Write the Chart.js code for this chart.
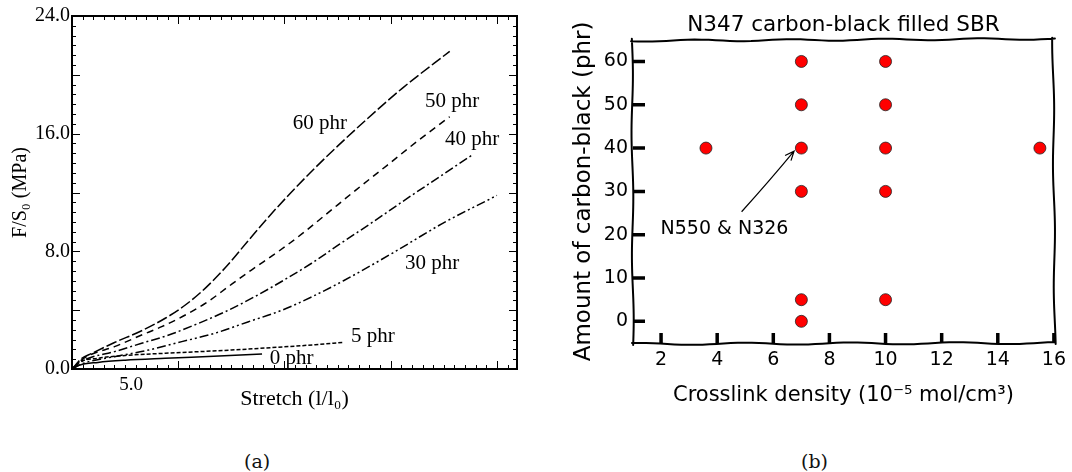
<!DOCTYPE html>
<html>
<head>
<meta charset="utf-8">
<script src="https://cdn.jsdelivr.net/npm/chart.js@4"></script>
<style>
  html, body { margin: 0; padding: 0; background: #fff; }
  body { width: 1072px; height: 472px; position: relative; overflow: hidden; }
  #chartA { position: absolute; left: 0; top: 0; }
  #chartB { position: absolute; left: 560px; top: 0; }
  .cap { position: absolute; top: 450px; font: 19px "DejaVu Serif", serif; color: #111; line-height: 22px; }
</style>
</head>
<body>
<canvas id="chartA" width="540" height="420"></canvas>
<canvas id="chartB" width="512" height="420"></canvas>
<div class="cap" style="left:244px">(a)</div>
<div class="cap" style="left:801px">(b)</div>
<script>
// ---- panel (a): stress vs stretch for each filler loading ----
const stretch60 = [0, 0.8, 1.7, 3.6, 5.9, 7.9, 9.6, 11.3, 13.0, 14.8, 16.5, 18.5, 20.5, 22.5, 25.0, 28.0, 32.0];
const stress60  = [0, 0.7, 1.07, 1.8, 2.6, 3.45, 4.35, 5.5, 6.9, 8.6, 10.2, 11.95, 13.6, 15.15, 17.0, 19.1, 21.6];
const stretch50 = [0, 0.8, 1.5, 3.6, 5.9, 7.6, 9.6, 11.55, 13.25, 15.2, 17.5, 19.5, 21.5, 24.1, 26.7, 29.2, 32.0];
const stress50  = [0, 0.6, 0.95, 1.52, 2.31, 2.88, 3.67, 4.6, 5.6, 6.73, 8.0, 9.2, 10.5, 12.2, 13.85, 15.45, 17.15];
const stretch40 = [0, 0.7, 1.4, 3.6, 5.9, 8.2, 10.7, 13.0, 15.2, 17.5, 20.3, 22.7, 25.5, 28.4, 31.2, 34.0];
const stress40  = [0, 0.45, 0.73, 1.18, 1.75, 2.31, 3.1, 3.9, 4.8, 5.83, 7.19, 8.5, 10.0, 11.6, 13.1, 14.6];
const stretch30 = [0, 0.7, 1.4, 3.6, 6.5, 9.3, 12.1, 14.9, 17.8, 20.3, 23.0, 27.2, 31.4, 36.0];
const stress30  = [0, 0.3, 0.5, 0.84, 1.29, 1.86, 2.43, 3.2, 4.0, 4.9, 6.0, 7.9, 9.9, 11.8];
const stretch5  = [0, 0.6, 2.2, 4.5, 7.9, 13.5, 20.6, 22.9];
const stress5   = [0, 0.45, 0.73, 0.92, 1.07, 1.29, 1.65, 1.8];
const stretch0  = [0, 0.6, 2.2, 4.5, 7.9, 12.0, 16.1];
const stress0   = [0, 0.25, 0.45, 0.6, 0.73, 0.87, 1.02];

const curveNames = ['60 phr', '50 phr', '40 phr', '30 phr', '5 phr', '0 phr'];
const nameX = [21.0, 32.2, 33.9, 30.5, 25.5, 18.6];
const nameY = [16.7, 18.2, 15.6, 7.2, 2.2, 0.7];
const yTicksA = [0, 8, 16, 24];
const xTicksA = [5];

// ---- panel (b): formulation map ----
const crosslinkDensity = [3.6, 7, 7, 7, 7, 7, 7, 10, 10, 10, 10, 10, 15.5];
const carbonBlack      = [40, 60, 50, 40, 30, 5, 0, 60, 50, 40, 30, 5, 40];
const xTicksB = [2, 4, 6, 8, 10, 12, 14, 16];
const yTicksB = [0, 10, 20, 30, 40, 50, 60];
const noteText = 'N550 & N326';
const noteAt = [4.26, 21.4];
const arrowFrom = [4.87, 25.3];
const arrowTo = [6.74, 39.3];

function series(xs, ys) {
  return xs.map((x, i) => ({ x: x, y: ys[i] }));
}

const frameA = {
  id: 'frameA',
  afterDraw(chart) {
    const { ctx, chartArea: a, scales: { x, y } } = chart;
    ctx.save();
    ctx.strokeStyle = '#000';
    ctx.lineWidth = 1;
    ctx.beginPath();
    for (let i = 0; i <= 36; i++) {
      const py = Math.round(y.getPixelForValue(i * 4 / 6)) + 0.5;
      const len = i % 6 === 0 ? 8 : 4;
      ctx.moveTo(a.left, py); ctx.lineTo(a.left + len, py);
      ctx.moveTo(a.right, py); ctx.lineTo(a.right - len, py);
    }
    for (let i = 0; i * 0.9 <= x.max; i++) {
      const px = Math.round(x.getPixelForValue(i * 0.9)) + 0.5;
      const len = i % 10 === 0 ? 8 : 4;
      ctx.moveTo(px, a.bottom); ctx.lineTo(px, a.bottom - len);
      ctx.moveTo(px, a.top); ctx.lineTo(px, a.top + len);
    }
    ctx.stroke();
    ctx.lineWidth = 2;
    ctx.strokeRect(a.left, a.top, a.right - a.left, a.bottom - a.top);

    ctx.font = '21px "Liberation Serif", serif';
    ctx.fillStyle = '#000';
    ctx.textAlign = 'center';
    ctx.textBaseline = 'middle';
    curveNames.forEach((t, i) => {
      ctx.fillText(t, x.getPixelForValue(nameX[i]), y.getPixelForValue(nameY[i]));
    });
    ctx.restore();
  }
};

const serifA = 'Liberation Serif';
new Chart(document.getElementById('chartA'), {
  type: 'line',
  data: {
    datasets: [
      { data: series(stretch60, stress60), borderDash: [11, 3] },
      { data: series(stretch50, stress50), borderDash: [7, 5] },
      { data: series(stretch40, stress40), borderDash: [9, 3, 2, 3] },
      { data: series(stretch30, stress30), borderDash: [9, 3, 2, 3, 2, 3] },
      { data: series(stretch5, stress5), borderDash: [4, 2] },
      { data: series(stretch0, stress0), borderDash: [] }
    ].map(d => Object.assign(d, {
      borderColor: '#000', backgroundColor: '#000', borderWidth: 1.5,
      pointRadius: 0, tension: 0.4, cubicInterpolationMode: 'monotone', fill: false
    }))
  },
  options: {
    responsive: false,
    animation: false,
    layout: { padding: { top: 16, right: 23, left: 0, bottom: 0 } },
    plugins: { legend: { display: false }, tooltip: { enabled: false } },
    scales: {
      x: {
        type: 'linear', min: 0, max: 37.7,
        grid: { display: false, drawTicks: false },
        border: { display: false },
        afterBuildTicks: s => { s.ticks = xTicksA.map(v => ({ value: v })); },
        afterFit: s => { s.height = 51; },
        ticks: {
          callback: v => v.toFixed(1), autoSkip: false, maxRotation: 0,
          font: { family: serifA, size: 19 }, color: '#000', padding: 5
        },
        title: {
          display: true, text: 'Stretch (l/l₀)', color: '#000',
          font: { family: serifA, size: 22 }, padding: { top: 0, bottom: 8 }
        }
      },
      y: {
        type: 'linear', min: 0, max: 24,
        grid: { display: false, drawTicks: false },
        border: { display: false },
        afterBuildTicks: s => { s.ticks = yTicksA.map(v => ({ value: v })); },
        afterFit: s => { s.width = 72; },
        ticks: {
          callback: v => v.toFixed(1),
          font: { family: serifA, size: 20 }, color: '#000', padding: 2
        },
        title: {
          display: true, text: 'F/S₀ (MPa)', color: '#000',
          font: { family: serifA, size: 20 }, padding: { top: 9, bottom: 0 }
        }
      }
    }
  },
  plugins: [frameA]
});

// hand-drawn looking frame, inward ticks and the annotation for panel (b)
function wobbly(ctx, x0, y0, x1, y1, amp, waves, phase) {
  const dx = x1 - x0, dy = y1 - y0, L = Math.hypot(dx, dy);
  for (let i = 0; i <= 60; i++) {
    const t = i / 60;
    const off = amp * Math.sin(t * Math.PI * waves + phase);
    const px = x0 + dx * t - dy / L * off;
    const py = y0 + dy * t + dx / L * off;
    if (i === 0) ctx.moveTo(px, py); else ctx.lineTo(px, py);
  }
}

const frameB = {
  id: 'frameB',
  beforeDatasetsDraw(chart) {
    const { ctx, chartArea: a, scales: { x, y } } = chart;
    ctx.save();
    ctx.strokeStyle = '#000';
    ctx.lineWidth = 2;
    ctx.lineCap = 'round';
    ctx.beginPath();
    wobbly(ctx, a.left - 2, a.top + 1, a.right + 1, a.top - 1, 0.9, 9, 0.4);
    wobbly(ctx, a.right - 1, a.top - 2, a.right + 1, a.bottom + 1, 0.8, 5, 1.2);
    wobbly(ctx, a.right + 1, a.bottom, a.left - 1, a.bottom + 1, 1.0, 8, 2.0);
    wobbly(ctx, a.left, a.bottom + 2, a.left - 1, a.top - 1, 0.8, 5, 0.2);
    ctx.stroke();

    ctx.lineWidth = 3.5;
    ctx.lineCap = 'butt';
    ctx.beginPath();
    xTicksB.forEach(v => {
      const px = x.getPixelForValue(v);
      ctx.moveTo(px, a.bottom); ctx.lineTo(px, a.bottom - 10);
    });
    yTicksB.forEach(v => {
      const py = y.getPixelForValue(v);
      ctx.moveTo(a.left, py); ctx.lineTo(a.left + 12, py);
    });
    ctx.stroke();

    // annotation arrow
    const x0 = x.getPixelForValue(arrowFrom[0]), y0 = y.getPixelForValue(arrowFrom[1]);
    const x1 = x.getPixelForValue(arrowTo[0]), y1 = y.getPixelForValue(arrowTo[1]);
    const ang = Math.atan2(y1 - y0, x1 - x0);
    ctx.lineWidth = 1.2;
    ctx.beginPath();
    ctx.moveTo(x0, y0);
    ctx.quadraticCurveTo((x0 + x1) / 2 + 2, (y0 + y1) / 2 - 1, x1, y1);
    ctx.moveTo(x1 - 10 * Math.cos(ang - 0.4), y1 - 10 * Math.sin(ang - 0.4));
    ctx.lineTo(x1, y1);
    ctx.lineTo(x1 - 10 * Math.cos(ang + 0.4), y1 - 10 * Math.sin(ang + 0.4));
    ctx.stroke();

    ctx.font = '19px "DejaVu Sans", sans-serif';
    ctx.fillStyle = '#000';
    ctx.textAlign = 'center';
    ctx.textBaseline = 'middle';
    ctx.fillText(noteText, x.getPixelForValue(noteAt[0]), y.getPixelForValue(noteAt[1]));
    ctx.restore();
  }
};

const sansB = 'DejaVu Sans';
new Chart(document.getElementById('chartB'), {
  type: 'scatter',
  data: {
    datasets: [{
      data: series(crosslinkDensity, carbonBlack),
      pointRadius: 6, pointBackgroundColor: '#ff0000',
      pointBorderColor: '#222', pointBorderWidth: 0.8,
      backgroundColor: '#ff0000', borderColor: '#222'
    }]
  },
  options: {
    responsive: false,
    animation: false,
    layout: { padding: { top: 0, right: 15, left: 0, bottom: 0 } },
    plugins: {
      legend: { display: false },
      tooltip: { enabled: false },
      title: {
        display: true, text: 'N347 carbon-black filled SBR', color: '#000',
        fullSize: false, font: { family: sansB, size: 21.5, weight: 'normal' },
        padding: { top: 13, bottom: 1 }
      }
    },
    scales: {
      x: {
        type: 'linear', min: 1, max: 16,
        grid: { display: false, drawTicks: false },
        border: { display: false },
        afterBuildTicks: s => { s.ticks = xTicksB.map(v => ({ value: v })); },
        afterFit: s => { s.height = 77; },
        ticks: { font: { family: sansB, size: 19 }, color: '#000', padding: 6, maxRotation: 0, autoSkip: false },
        title: {
          display: true, text: 'Crosslink density (10⁻⁵ mol/cm³)', color: '#000',
          font: { family: sansB, size: 21 }, padding: { top: 0, bottom: 12 }
        }
      },
      y: {
        type: 'linear', min: -5, max: 65,
        grid: { display: false, drawTicks: false },
        border: { display: false },
        afterBuildTicks: s => { s.ticks = yTicksB.map(v => ({ value: v })); },
        afterFit: s => { s.width = 73; },
        ticks: { font: { family: sansB, size: 19 }, color: '#000', padding: 5 },
        title: {
          display: true, text: 'Amount of carbon-black (phr)', color: '#000',
          font: { family: sansB, size: 23 }, padding: { top: 10, bottom: 0 }
        }
      }
    }
  },
  plugins: [frameB]
});
</script>
</body>
</html>
